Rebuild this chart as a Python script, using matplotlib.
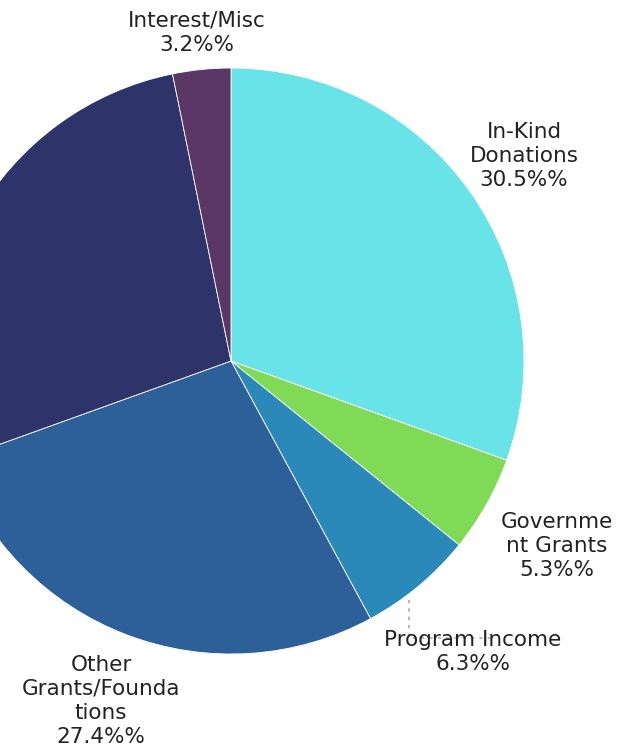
import matplotlib.pyplot as plt

# Datos del gráfico (porcentajes de ingresos)
categorias = ["In-Kind\nDonations", "Governme\nnt Grants", "Program Income",
              "Other\nGrants/Founda\ntions", "", "Interest/Misc"]
valores = [30.5, 5.3, 6.3, 27.4, 27.3, 3.2]
colores = ["#68E4E9", "#7FDA56", "#2B89B9", "#2D5F98", "#2E336A", "#5B3766"]

W, H = 632, 752
fig = plt.figure(figsize=(W / 100, H / 100), dpi=100)
ax = fig.add_axes([0, 0, 1, 1])

cx, cy, r = 231, H - 361, 293
ax.pie(valores, colors=colores, startangle=90, counterclock=False,
       center=(cx, cy), radius=r, frame=True,
       wedgeprops=dict(edgecolor="white", linewidth=0.6))
ax.set_xlim(0, W)
ax.set_ylim(0, H)
ax.set_aspect("equal")
ax.axis("off")

# Etiquetas con porcentaje
pos_etiquetas = [(524, 156), (557, 546), (473, 652), (101, 701), None, (197, 33)]
for cat, v, pos in zip(categorias, valores, pos_etiquetas):
    if pos is None:
        continue
    ax.text(pos[0], H - pos[1], f"{cat}\n{v}%%", ha="center", va="center",
            fontsize=15.5, color="#222222", linespacing=1.25)

# Línea guía para Program Income
ax.plot([409, 409, 490], [H - 600, H - 638, H - 638], color="#AAAAAA",
        linestyle=(0, (2, 3)), linewidth=1.2)

plt.savefig("out.png", dpi=100)
